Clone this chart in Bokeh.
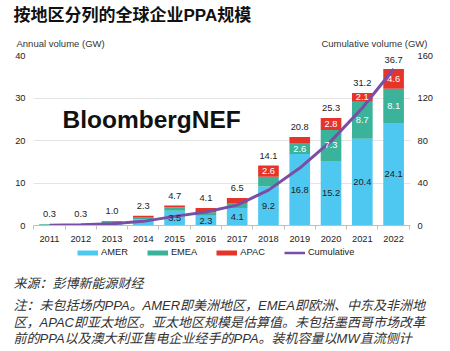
from bokeh.plotting import figure
from bokeh.models import (Range1d, LinearAxis, FixedTicker, Label, Legend, LegendItem,
                          ColumnDataSource)
from bokeh.layouts import column
from bokeh.core.properties import value
from bokeh.embed import file_html
from bokeh.resources import INLINE

# ---------------- data ----------------
years = [2011, 2012, 2013, 2014, 2015, 2016, 2017, 2018, 2019, 2020, 2021, 2022]
amer = [0.1, 0.2, 0.4, 1.4, 3.5, 2.3, 4.1, 9.2, 16.8, 15.2, 20.4, 24.1]
emea = [0.2, 0.1, 0.4, 0.6, 0.8, 0.8, 1.2, 2.3, 2.6, 7.3, 8.7, 8.1]
apac = [0.0, 0.0, 0.2, 0.3, 0.4, 1.0, 1.2, 2.6, 1.4, 2.8, 2.1, 4.6]
totals = [0.3, 0.3, 1.0, 2.3, 4.7, 4.1, 6.5, 14.1, 20.8, 25.3, 31.2, 36.7]
cumulative = [0.3, 0.6, 1.6, 3.9, 8.6, 12.7, 19.2, 33.3, 54.1, 79.4, 110.6, 147.3]
amer_labels = ["", "", "", "", "3.5", "2.3", "4.1", "9.2", "16.8", "15.2", "20.4", "24.1"]
emea_labels = ["", "", "", "", "", "", "", "", "2.6", "7.3", "8.7", "8.1"]
apac_labels = ["", "", "", "", "", "", "", "2.6", "", "2.8", "2.1", "4.6"]
left_ticks = [0, 10, 20, 30, 40]
right_ticks = [0, 40, 80, 120, 160]
series_names = ["AMER", "EMEA", "APAC", "Cumulative"]

title_text = "按地区分列的全球企业PPA规模"
left_title = "Annual volume (GW)"
right_title = "Cumulative volume (GW)"
watermark = "BloombergNEF"
source_text = "来源：彭博新能源财经"
note_lines = [
    "注：未包括场内PPA。AMER即美洲地区，EMEA即欧洲、中东及非洲地",
    "区，APAC即亚太地区。亚太地区规模是估算值。未包括墨西哥市场改革",
    "前的PPA以及澳大利亚售电企业经手的PPA。装机容量以MW直流侧计",
]

# ---------------- style ----------------
C_AMER = "#4ec8f1"
C_EMEA = "#3bb39b"
C_APAC = "#e5352b"
C_CUM = "#7b4ea6"
FONT = "Liberation Sans, Noto Sans CJK SC"
TXT = "#222222"
W = 450


def no_align(f):
    if "frame_align" in f.properties():
        f.frame_align = False


def blank_fig(h, y_top, y_bottom):
    f = figure(width=W, height=h, output_backend="svg", toolbar_location=None,
               x_range=Range1d(0, W), y_range=Range1d(y_bottom, y_top),
               x_axis_type=None, y_axis_type=None,
               min_border=0, min_border_left=0, min_border_right=0,
               min_border_top=0, min_border_bottom=0)
    f.outline_line_color = None
    f.xgrid.visible = False
    f.ygrid.visible = False
    f.background_fill_color = "white"
    f.border_fill_color = "white"
    no_align(f)
    return f


def add_label(f, text, x, y, size, style="normal", align="left", color=TXT):
    f.add_layout(Label(x=x, y=y, text=text,
                       text_font=FONT, text_font_size=size, text_font_style=style,
                       text_align=align, text_baseline="middle", text_color=color))


# ---------------- top strip (page y 0..50) ----------------
top = blank_fig(50, 0, 50)
add_label(top, title_text, 13, 15, "17px", style="bold", color="#111111")
add_label(top, left_title, 16, 43, "9.5px", color="#333333")
add_label(top, right_title, 427, 43, "9.5px", align="right", color="#333333")

# ---------------- chart (page y 50..245) ----------------
p = figure(width=W, height=195, output_backend="svg", toolbar_location=None,
           x_range=Range1d(2010.49, 2022.54), y_range=Range1d(0, 40),
           min_border_left=33, min_border_right=40, min_border_top=5,
           min_border_bottom=20)
no_align(p)
p.outline_line_color = None
p.background_fill_color = "white"
p.border_fill_color = "white"
p.extra_y_ranges = {"cum": Range1d(0, 160)}

p.xgrid.visible = False
p.ygrid.ticker = FixedTicker(ticks=left_ticks)
p.ygrid.grid_line_color = "#e4e4e4"

xa = p.xaxis[0]
xa.ticker = FixedTicker(ticks=years, minor_ticks=[y - 0.5 for y in years] + [years[-1] + 0.5])
xa.axis_line_color = "#bfbfbf"
xa.major_tick_line_color = None
xa.major_tick_out = 0
xa.major_tick_in = 0
xa.minor_tick_line_color = "#bfbfbf"
xa.minor_tick_out = 4
xa.minor_tick_in = 0
xa.major_label_standoff = 6
xa.major_label_text_font = FONT
xa.major_label_text_font_size = "9.3px"
xa.major_label_text_color = TXT

ya = p.yaxis[0]
ya.ticker = FixedTicker(ticks=left_ticks)
ya.axis_line_color = None
ya.major_tick_line_color = None
ya.major_tick_out = 0
ya.major_tick_in = 0
ya.minor_tick_line_color = None
ya.major_label_standoff = 8
ya.major_label_text_font = FONT
ya.major_label_text_font_size = "9.3px"
ya.major_label_text_color = TXT

ra = LinearAxis(y_range_name="cum", ticker=FixedTicker(ticks=right_ticks))
ra.axis_line_color = None
ra.major_tick_line_color = None
ra.major_tick_out = 0
ra.major_tick_in = 0
ra.minor_tick_line_color = None
ra.major_label_standoff = 7
ra.major_label_text_font = FONT
ra.major_label_text_font_size = "9.3px"
ra.major_label_text_color = TXT
p.add_layout(ra, "right")

amer_mid = [a / 2 for a in amer]
emea_mid = [a + e / 2 for a, e in zip(amer, emea)]
apac_mid = [a + e + c / 2 for a, e, c in zip(amer, emea, apac)]
src = ColumnDataSource(dict(year=years, AMER=amer, EMEA=emea, APAC=apac, total=totals,
                            total_lbl=["%.1f" % t for t in totals],
                            amer_mid=amer_mid, emea_mid=emea_mid, apac_mid=apac_mid,
                            amer_lbl=amer_labels, emea_lbl=emea_labels, apac_lbl=apac_labels))
p.vbar_stack(["AMER", "EMEA", "APAC"], x="year", width=0.66, source=src,
             color=[C_AMER, C_EMEA, C_APAC], line_color=None)

p.line(years, cumulative, y_range_name="cum", line_color=C_CUM, line_width=3)

common = dict(x="year", source=src, text_align="center", text_baseline="middle",
              text_font=value(FONT), text_font_size="9.3px")
p.text(y="total", text="total_lbl", y_offset=-10, text_color=TXT, **common)
p.text(y="amer_mid", text="amer_lbl", text_color=TXT, **common)
p.text(y="emea_mid", text="emea_lbl", text_color="white", **common)
p.text(y="apac_mid", text="apac_lbl", text_color="white", **common)

wm = Label(x=62 - 33, y=106, x_units="screen", y_units="screen", text=watermark,
           text_font=FONT, text_font_size="24.5px", text_font_style="bold",
           text_baseline="middle", text_color="#111111")
p.add_layout(wm)

# ---------------- bottom strip (page y 245..351) ----------------
bot = blank_fig(106, 245, 351)
nan = float("nan")
sw = [bot.line([nan], [nan], line_color=c, line_width=w)
      for c, w in zip([C_AMER, C_EMEA, C_APAC, C_CUM], [5, 5, 5, 2.5])]
legend = Legend(items=[LegendItem(label=n, renderers=[r]) for n, r in zip(series_names, sw)],
                orientation="horizontal", location=(77, 351 - 257.5),
                glyph_width=21, glyph_height=11, label_height=11, label_standoff=3,
                spacing=19, padding=0, margin=0,
                border_line_color=None, background_fill_alpha=0,
                label_text_font=FONT, label_text_font_size="9.3px",
                label_text_color=TXT, label_text_baseline="middle")
bot.add_layout(legend)
add_label(bot, source_text, 13, 283, "13px", style="italic", color="#333333")
for i, line in enumerate(note_lines):
    add_label(bot, line, 13, 305 + 16.5 * i, "13px", style="italic", color="#333333")

layout = column(top, p, bot, spacing=0)
open("out.html", "w").write(file_html(layout, INLINE))
